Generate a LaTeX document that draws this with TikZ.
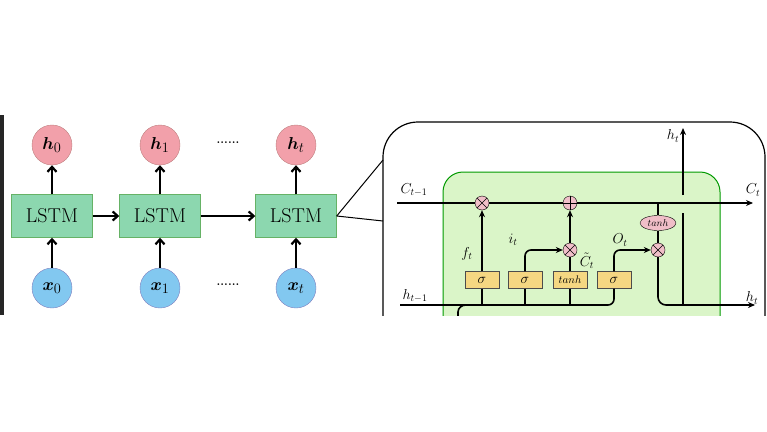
\documentclass[tikz,border=0pt]{standalone}
\usepackage{amsmath,bm}
\usetikzlibrary{arrows.meta,shapes.geometric}
\definecolor{hpink}{RGB}{242,160,170}
\definecolor{xblue}{RGB}{130,200,240}
\definecolor{lgreen}{RGB}{140,215,175}
\definecolor{cgreen}{RGB}{218,245,200}
\definecolor{gyel}{RGB}{245,215,130}
\definecolor{opk}{RGB}{240,190,200}
\begin{document}
\begin{tikzpicture}[x=1pt,y=-1pt,
  hc/.style={circle,draw=red!50!black!50,fill=hpink,minimum size=40pt,inner sep=0pt,font=\fontsize{19}{19}\selectfont},
  xc/.style={circle,draw=blue!50!black!50,fill=xblue,minimum size=40pt,inner sep=0pt,font=\fontsize{19}{19}\selectfont},
  lstm/.style={rectangle,draw=green!50!black!60,fill=lgreen,minimum width=81pt,minimum height=43pt,font=\fontsize{20}{20}\selectfont},
  ar/.style={-{Straight Barb[length=5pt,width=9pt]},line width=2.2pt},
  ln/.style={line width=1.6pt},
  la/.style={ln,-{Stealth[length=7pt,width=6pt]}},
  op/.style={circle,draw=black,fill=opk,minimum size=14pt,inner sep=0pt},
  gate/.style={rectangle,draw=black!70,fill=gyel,minimum width=34pt,minimum height=17pt,inner sep=0pt,font=\fontsize{14}{14}\selectfont},
  lab/.style={font=\fontsize{14}{14}\selectfont}]
\useasboundingbox (0,0) rectangle (767,431);
\fill[black!85] (0,115) rectangle (4,315);
% left chain
\node[hc] (h0) at (52,145) {$\bm h_0$};
\node[hc] (h1) at (160,145) {$\bm h_1$};
\node[hc] (ht) at (296,145) {$\bm h_t$};
\node[lstm] (l0) at (52,216) {LSTM};
\node[lstm] (l1) at (160,216) {LSTM};
\node[lstm] (l2) at (296,216) {LSTM};
\node[xc] (x0) at (52,288) {$\bm x_0$};
\node[xc] (x1) at (160,288) {$\bm x_1$};
\node[xc] (xt) at (296,288) {$\bm x_t$};
\node (d1) at (228,143) {\textbf{\large......}};
\node (d2) at (228,285) {\textbf{\large......}};
\foreach \a/\b in {x0/l0,x1/l1,xt/l2,l0/h0,l1/h1,l2/ht,l0/l1,l1/l2} \draw[ar] (\a) -- (\b);
% zoom lines
\coordinate (z1) at (383,160);
\coordinate (z2) at (383,221);
\draw[line width=1pt] (l2.east) -- (z1);
\draw[line width=1pt] (l2.east) -- (z2);
\begin{scope}
\clip (370,100) rectangle (767,315);
\draw[line width=1.2pt,rounded corners=35pt] (383,330) -- (383,122) -- (765,122) -- (765,330);
\draw[green!60!black,line width=1pt,fill=cgreen,rounded corners=20pt] (443,330) -- (443,172) -- (720,172) -- (720,330);
\draw[ln] (458,330) -- (458,312) to[out=90,in=180] (466,305);
\end{scope}
% cell
\node[op] (m1) at (482,203) {};
\draw (m1.north west) -- (m1.south east) (m1.north east) -- (m1.south west);
\node[op] (p1) at (570,203) {};
\draw (p1.north) -- (p1.south) (p1.west) -- (p1.east);
\node[op] (m2) at (570,250) {};
\draw (m2.north west) -- (m2.south east) (m2.north east) -- (m2.south west);
\node[op] (m3) at (658,250) {};
\draw (m3.north west) -- (m3.south east) (m3.north east) -- (m3.south west);
\node[ellipse,draw=black,fill=opk,minimum width=36pt,minimum height=15pt,inner sep=0pt,font=\fontsize{10}{10}\selectfont] (th) at (658,223) {$tanh$};
\node[gate] (g1) at (482,280) {$\sigma$};
\node[gate] (g2) at (525,280) {$\sigma$};
\node[gate] (g3) at (570,280) {\fontsize{11}{11}\selectfont$tanh$};
\node[gate] (g4) at (614,280) {$\sigma$};
\coordinate (cs) at (397,203); \coordinate (ce) at (753,203);
\draw[la] (cs) -- (m1) -- (p1) -- (ce);
\coordinate (hs) at (400,305); \coordinate (he) at (755,305);
\draw[ln,rounded corners=6pt] (hs) -- (614,305) -- (g4.south);
\draw[ln] (g1.south) -- (482,305) (g2.south) -- (525,305) (g3.south) -- (570,305);
\draw[la] (g1.north) -- (m1);
\draw[la,rounded corners=6pt] (g2.north) -- (525,250) -- (m2);
\draw[ln] (g3.north) -- (m2);
\draw[la] (m2) -- (p1);
\draw[la,rounded corners=6pt] (g4.north) -- (614,250) -- (m3);
\draw[ln] (658,203) -- (th) -- (m3);
\draw[la,rounded corners=8pt] (m3) -- (658,305) -- (he);
\coordinate (v1) at (683,305); \coordinate (v2) at (683,213);
\coordinate (v3) at (683,195); \coordinate (v4) at (683,128);
\draw[ln] (v1) -- (v2);
\draw[la] (v3) -- (v4);
\node[lab] (lc0) at (414,190) {$C_{t-1}$};
\node[lab] (lc1) at (753,190) {$C_t$};
\node[lab] (lh0) at (415,296) {$h_{t-1}$};
\node[lab] (lh1) at (752,298) {$h_t$};
\node[lab] (lht) at (673,136) {$h_t$};
\node[lab] (lf) at (467,254) {$f_t$};
\node[lab] (li) at (513,240) {$i_t$};
\node[lab] (lct) at (587,261) {$\tilde C_t$};
\node[lab] (lo) at (620,240) {$O_t$};
\end{tikzpicture}
\end{document}
